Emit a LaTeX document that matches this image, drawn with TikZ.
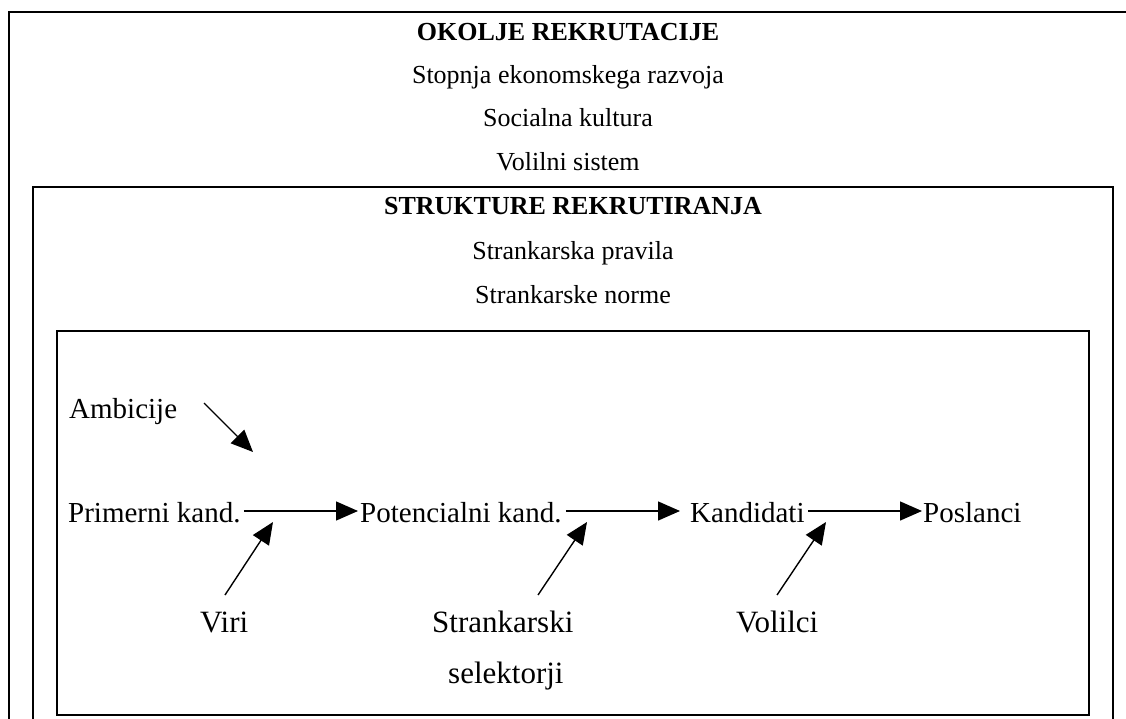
\documentclass[tikz,border=0pt]{standalone}
\usepackage{fontspec}
\setmainfont{Liberation Serif}
\usetikzlibrary{arrows.meta}
\begin{document}
\begin{tikzpicture}[x=1pt,y=-1pt,
  box/.style={draw, line width=1.5pt},
  toptext/.style={inner sep=0pt, anchor=base, font=\fontsize{26}{30}\selectfont},
  headtext/.style={toptext, font=\bfseries\fontsize{26}{30}\selectfont},
  rowtext/.style={inner sep=0pt, anchor=base west, font=\fontsize{29}{33}\selectfont},
  bottext/.style={inner sep=0pt, anchor=base west, font=\fontsize{31}{35}\selectfont},
  arr/.style={line width=1.4pt, -{Triangle[length=22pt,width=19pt]}}]
\useasboundingbox (0,0) rectangle (1126,719);
\clip (0,0) rectangle (1126,719);
\fill[white] (0,0) rectangle (1126,719);
% boxes
\draw[box] (9,12) rectangle (1140,745);
\draw[box] (33,187) rectangle (1113,745);
\draw[box] (57,331) rectangle (1089,715);
% outer texts
\node[headtext] (okolje) at (568,41) {OKOLJE REKRUTACIJE};
\node[toptext] (stopnja) at (568,84) {Stopnja ekonomskega razvoja};
\node[toptext] (socialna) at (568,127) {Socialna kultura};
\node[toptext] (volilni) at (568,171) {Volilni sistem};
% middle texts
\node[headtext] (strukture) at (573,215) {STRUKTURE REKRUTIRANJA};
\node[toptext] (pravila) at (573,259) {Strankarska pravila};
\node[toptext] (norme) at (573,303) {Strankarske norme};
% row
\node[rowtext] (amb) at (69,418) {Ambicije};
\node[rowtext] (prim) at (68,522) {Primerni kand.};
\node[rowtext] (pot) at (360,522) {Potencialni kand.};
\node[rowtext] (kand) at (690,522) {Kandidati};
\node[rowtext] (posl) at (923,522) {Poslanci};
\draw[arr] ([xshift=3pt,yshift=11pt]prim.base east) -- ([xshift=-2pt,yshift=11pt]pot.base west);
\draw[arr] ([xshift=4pt,yshift=11pt]pot.base east) -- ([xshift=-10pt,yshift=11pt]kand.base west);
\draw[arr] ([xshift=3pt,yshift=11pt]kand.base east) -- ([xshift=-1pt,yshift=11pt]posl.base west);
% ambicije arrow
\coordinate (ambtail) at (204,403);
\coordinate (ambtip) at (253,452);
\draw[arr] (ambtail) -- (ambtip);
% bottom labels
\node[bottext] (viri) at (200,632) {Viri};
\node[bottext] (strank) at (432,632) {Strankarski};
\node[bottext] (selek) at (448,683) {selektorji};
\node[bottext] (volilci) at (736,632) {Volilci};
\coordinate (t1) at (225,595); \coordinate (h1) at (273,522);
\coordinate (t2) at (538,595); \coordinate (h2) at (587,522);
\coordinate (t3) at (777,595); \coordinate (h3) at (826,522);
\draw[arr] (t1) -- (h1);
\draw[arr] (t2) -- (h2);
\draw[arr] (t3) -- (h3);
\end{tikzpicture}
\end{document}
